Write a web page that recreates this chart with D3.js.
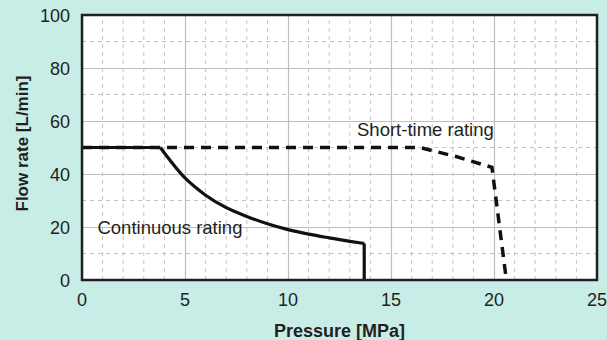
<!DOCTYPE html>
<html>
<head>
<meta charset="utf-8">
<script src="https://cdn.jsdelivr.net/npm/d3@7"></script>
<style>
  body { margin: 0; background: #c8ece6; }
  text { font-family: "Liberation Sans", Arial, sans-serif; fill: #231f20; }
</style>
</head>
<body>
<div id="chart"></div>
<script>
const xTicks = [0, 5, 10, 15, 20, 25];
const yTicks = [0, 20, 40, 60, 80, 100];

// continuous rating: pressure [MPa], flow [L/min]
const continuousP = [0, 3.8, 5, 6, 7, 8, 9, 10, 11, 12, 13, 13.7, 13.7];
const continuousQ = [50, 50, 38.5, 32, 27.3, 24, 21.2, 19, 17.3, 15.9, 14.6, 13.8, 0];

// short-time rating
const shortP = [0, 16.4, 18.2, 19.9, 20.6];
const shortQ = [50, 50, 46.5, 42.5, 0];

const width = 607;
const height = 340;
const margin = { top: 15, right: 10, bottom: 60, left: 82 };

const x = d3.scaleLinear().domain([0, 25]).range([margin.left, width - margin.right]);
const y = d3.scaleLinear().domain([0, 100]).range([height - margin.bottom, margin.top]);

const svg = d3.select("#chart")
  .append("svg")
  .attr("width", width)
  .attr("height", height);

svg.append("rect")
  .attr("x", x(0)).attr("y", y(100))
  .attr("width", x(25) - x(0)).attr("height", y(0) - y(100))
  .attr("fill", "#fff");

// minor grid
const grid = svg.append("g");
grid.selectAll("line.mx")
  .data(d3.range(1, 25).filter(v => v % 5 !== 0))
  .join("line")
  .attr("x1", d => x(d)).attr("x2", d => x(d))
  .attr("y1", y(0)).attr("y2", y(100))
  .attr("stroke", "#c4c4c4").attr("stroke-dasharray", "4,4");
grid.selectAll("line.my")
  .data([10, 30, 50, 70, 90])
  .join("line")
  .attr("x1", x(0)).attr("x2", x(25))
  .attr("y1", d => y(d)).attr("y2", d => y(d))
  .attr("stroke", "#c4c4c4").attr("stroke-dasharray", "4,4");

// major grid
svg.append("g")
  .attr("transform", `translate(0,${y(0)})`)
  .call(d3.axisBottom(x).tickValues(xTicks).tickSize(-(y(0) - y(100))).tickFormat(""))
  .call(g => g.select(".domain").remove())
  .call(g => g.selectAll("line").attr("stroke", "#bdbdbd").attr("stroke-width", 1.2));
svg.append("g")
  .attr("transform", `translate(${x(0)},0)`)
  .call(d3.axisLeft(y).tickValues(yTicks).tickSize(-(x(25) - x(0))).tickFormat(""))
  .call(g => g.select(".domain").remove())
  .call(g => g.selectAll("line").attr("stroke", "#bdbdbd").attr("stroke-width", 1.2));

const line = d3.line().x(d => x(d[0])).y(d => y(d[1]));

svg.append("path")
  .datum(shortP.map((p, i) => [p, shortQ[i]]))
  .attr("d", line)
  .attr("fill", "none")
  .attr("stroke", "#111")
  .attr("stroke-width", 3.5)
  .attr("stroke-dasharray", "10,7");

const contPts = continuousP.map((p, i) => [p, continuousQ[i]]);
svg.append("path")
  .datum(contPts.slice(1, -1))
  .attr("d", d3.line().x(d => x(d[0])).y(d => y(d[1])).curve(d3.curveMonotoneX))
  .attr("fill", "none")
  .attr("stroke", "#111")
  .attr("stroke-width", 3.2);
svg.append("path")
  .datum([contPts[0], contPts[1]])
  .attr("d", line)
  .attr("fill", "none").attr("stroke", "#111").attr("stroke-width", 3.2);
svg.append("path")
  .datum(contPts.slice(-2))
  .attr("d", line)
  .attr("fill", "none").attr("stroke", "#111").attr("stroke-width", 3.2);

// frame
svg.append("rect")
  .attr("x", x(0)).attr("y", y(100))
  .attr("width", x(25) - x(0)).attr("height", y(0) - y(100))
  .attr("fill", "none").attr("stroke", "#231f20").attr("stroke-width", 2.5);

// tick labels
svg.selectAll("text.xt")
  .data(xTicks)
  .join("text")
  .attr("x", d => x(d)).attr("y", y(0) + 26)
  .attr("text-anchor", "middle")
  .style("font-size", "18px")
  .text(d => d);
svg.selectAll("text.yt")
  .data(yTicks)
  .join("text")
  .attr("x", x(0) - 12).attr("y", d => y(d) + 7)
  .attr("text-anchor", "end")
  .style("font-size", "18px")
  .text(d => d);

svg.append("text")
  .attr("x", (x(0) + x(25)) / 2).attr("y", 337)
  .attr("text-anchor", "middle")
  .style("font-size", "18px").style("font-weight", "bold")
  .text("Pressure [MPa]");
svg.append("text")
  .attr("transform", `translate(28,${(y(0) + y(100)) / 2 - 4}) rotate(-90)`)
  .attr("text-anchor", "middle")
  .style("font-size", "17px").style("font-weight", "bold")
  .text("Flow rate [L/min]");

svg.append("text")
  .attr("x", x(0.75)).attr("y", y(20) + 7)
  .style("font-size", "18.5px")
  .text("Continuous rating");
svg.append("text")
  .attr("x", x(13.35)).attr("y", y(54.5))
  .style("font-size", "18.5px")
  .text("Short-time rating");
</script>
</body>
</html>
